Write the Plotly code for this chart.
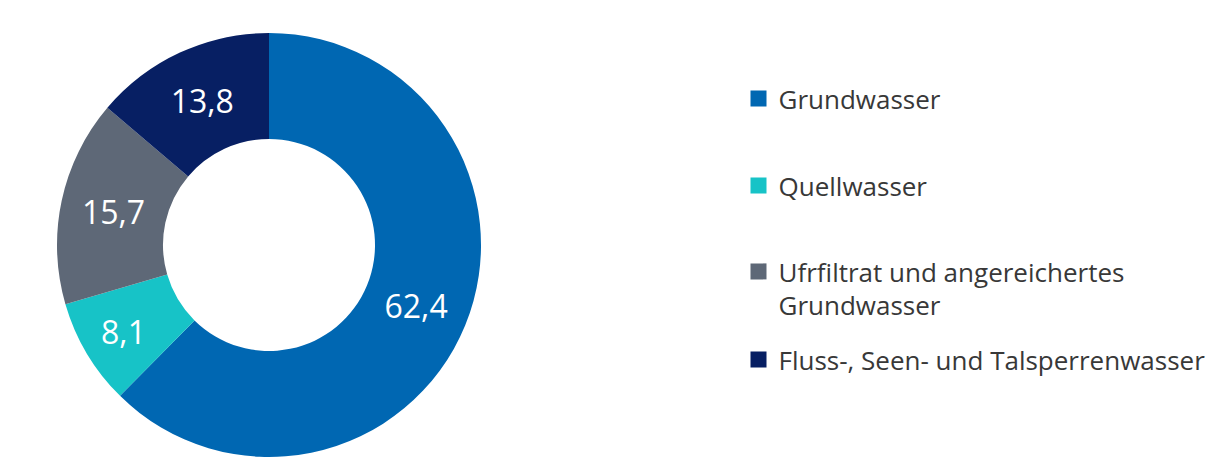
import plotly.graph_objects as go

# page is 1232x473; the HTML body adds an 8px margin, so the figure is a bit smaller
PAGE_W, PAGE_H = 1232, 473
OFF = 8
W, H = PAGE_W - 2 * OFF, PAGE_H - 2 * OFF

labels = ["Grundwasser", "Quellwasser", "Ufrfiltrat und angereichertes<br>Grundwasser",
          "Fluss-, Seen- und Talsperrenwasser"]
values = [62.4, 8.1, 15.7, 13.8]
colors = ["#0067B2", "#17C3C7", "#5E6877", "#071F63"]


def px_x(x):
    return (x - OFF) / W


def px_y(y):
    return 1 - (y - OFF) / H


fig = go.Figure()

fig.add_trace(go.Pie(
    labels=labels, values=values, sort=False, direction="clockwise", rotation=0,
    hole=0.5,
    marker=dict(colors=colors, line=dict(width=0)),
    texttemplate="%{value:.1f}", textinfo="text", textposition="inside",
    insidetextorientation="horizontal",
    textfont=dict(family="Open Sans", size=32, color="white"),
    showlegend=False,
    domain=dict(x=[px_x(57), px_x(481)], y=[px_y(457), px_y(33)]),
))

# legend entries (one legend box per category so the spacing matches)
legend_centers = [98.5, 185.5, 271.5, 359.5]
legend_names = ["legend", "legend2", "legend3", "legend4"]
for name, lab, col in zip(legend_names, labels, colors):
    fig.add_trace(go.Scatter(
        x=[None], y=[None], mode="markers", name=lab,
        marker=dict(symbol="square", size=16, color=col),
        legend=name, hoverinfo="skip",
    ))

layout_legends = {}
for name, cy in zip(legend_names, legend_centers):
    layout_legends[name] = dict(
        x=px_x(758.5 - 20), xanchor="left",
        y=px_y(cy - 23.5), yanchor="top",
        valign="top",
        font=dict(family="Open Sans", size=26, color="#383838"),
        bgcolor="rgba(0,0,0,0)", borderwidth=0,
    )

fig.update_layout(
    width=W, height=H,
    margin=dict(l=0, r=0, t=0, b=0),
    paper_bgcolor="white", plot_bgcolor="white",
    separators=",.",
    xaxis=dict(visible=False), yaxis=dict(visible=False),
    **layout_legends,
)

fig.write_html("out.html")
